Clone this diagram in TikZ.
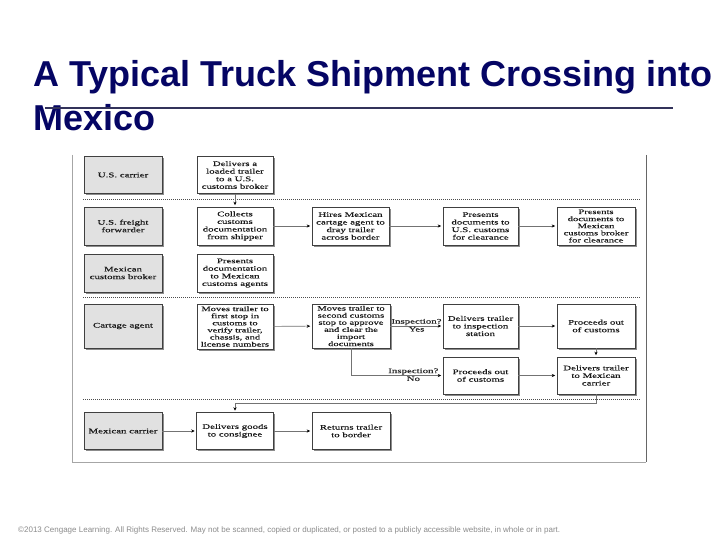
\documentclass[tikz,border=0pt]{standalone}
\usepackage{fontspec}
\setmainfont{Liberation Serif}
\newfontfamily\boxfont[FakeStretch=1.55,FakeBold=0.35]{Liberation Serif}
\newfontfamily\titlefont{Liberation Sans}
\usetikzlibrary{shadows,arrows.meta}
\definecolor{titleblue}{RGB}{5,5,100}
\definecolor{rulecol}{RGB}{50,50,90}
\definecolor{lanefill}{RGB}{225,225,225}
\tikzset{
  basebox/.style={draw=black!75, line width=0.6pt, align=center, inner sep=0.5pt,
    font=\boxfont\fontsize{7}{7.6}\selectfont, text=black!90,
    drop shadow={shadow xshift=1.6pt, shadow yshift=-1.6pt, fill=black!45, opacity=1}},
  task/.style={basebox, fill=white, minimum width=76pt},
  lane/.style={basebox, fill=lanefill, minimum width=78pt},
  tight/.style={font=\boxfont\fontsize{6.8}{7.1}\selectfont},
  conn/.style={draw=black!55, line width=0.6pt, -{Stealth[length=3.5pt,width=3.2pt,color=black]}, shorten >=1.5pt},
  sep/.style={draw=black!70, line width=0.5pt, dash pattern=on 1.2pt off 0.8pt},
  lbl/.style={font=\boxfont\fontsize{7}{7.6}\selectfont, inner sep=0.6pt, text=black!85},
  titletext/.style={anchor=base west, inner sep=0, font=\titlefont\bfseries\fontsize{36}{40}\selectfont, text=titleblue}
}
\begin{document}
\begin{tikzpicture}[x=1pt,y=-1pt]
\useasboundingbox (0,0) rectangle (720,540);
\fill[white] (0,0) rectangle (720,540);

% title
\node[titletext] (t1) at (33,87) {A Typical Truck Shipment Crossing into};
\node[titletext] (t2) at (33,131) {Mexico};
\draw[rulecol, line width=2.5pt] (45,108) -- (673,108);

% frame
\draw[black!35, line width=0.8pt] (72,155) -- (72,462) -- (646,462);
\draw[black!60, line width=0.8pt] (646,155) -- (646,462);

% separators
\draw[sep] (83,199) -- (640,199);
\draw[sep] (83,297) -- (640,297);
\draw[sep] (83,399) -- (640,399);

% lanes
\node[lane, minimum height=37pt] (l1) at (123,175) {U.S. carrier};
\node[lane, minimum height=38pt] (l2) at (123,226) {U.S. freight\\forwarder};
\node[lane, minimum height=38pt] (l3) at (123,273) {Mexican\\customs broker};
\node[lane, minimum height=44pt] (l4) at (123,326) {Cartage agent};
\node[lane, minimum height=37pt] (l5) at (123,431) {Mexican carrier};

% tasks
\node[task, minimum height=37pt] (a1) at (235,175) {Delivers a\\loaded trailer\\to a U.S.\\customs broker};
\node[task, minimum height=38pt] (b1) at (235,226) {Collects\\customs\\documentation\\from shipper};
\node[task, minimum height=38pt, minimum width=77pt] (b2) at (350.5,226) {Hires Mexican\\cartage agent to\\dray trailer\\across border};
\node[task, minimum height=38pt, minimum width=75pt] (b3) at (480.5,226) {Presents\\documents to\\U.S. customs\\for clearance};
\node[task, minimum height=38pt, minimum width=78pt, tight] (b4) at (596,226) {Presents\\documents to\\Mexican\\customs broker\\for clearance};
\node[task, minimum height=38pt] (c1) at (235,273) {Presents\\documentation\\to Mexican\\customs agents};
\node[task, minimum height=45pt, tight] (d1) at (235,326.5) {Moves trailer to\\first stop in\\customs to\\verify trailer,\\chassis, and\\license numbers};
\node[task, minimum height=44pt, minimum width=78pt, tight] (d2) at (351,326) {Moves trailer to\\second customs\\stop to approve\\and clear the\\import\\documents};
\node[task, minimum height=44pt, minimum width=75pt] (d3) at (480.5,326) {Delivers trailer\\to inspection\\station};
\node[task, minimum height=44pt, minimum width=78pt] (d4) at (596,326) {Proceeds out\\of customs};
\node[task, minimum height=37pt, minimum width=75pt] (e3) at (480.5,375.5) {Proceeds out\\of customs};
\node[task, minimum height=37pt, minimum width=78pt] (e4) at (596,375.5) {Delivers trailer\\to Mexican\\carrier};
\node[task, minimum height=37pt, minimum width=77pt] (f1) at (235,431) {Delivers goods\\to consignee};
\node[task, minimum height=37pt, minimum width=78pt] (f2) at (351,431) {Returns trailer\\to border};

% connectors
\draw[conn] (a1) -- (b1);
\draw[conn] (b1) -- (b2);
\draw[conn] (b2) -- (b3);
\draw[conn] (b3) -- (b4);
\draw[conn] (d1) -- (d2);
\draw[conn] (d2) -- node[lbl, above] {Inspection?} node[lbl, below] {Yes} (d3);
\draw[conn] (d2.south) |- node[lbl, above, pos=0.84] {Inspection?} node[lbl, below, pos=0.84] {No} (e3);
\draw[conn] (d3) -- (d4);
\draw[conn] (d4) -- (e4);
\draw[conn] (e3) -- (e4);
\draw[conn] (e4.south) -- ++(0,9) -| (f1.north);
\draw[conn] (l5) -- (f1);
\draw[conn] (f1) -- (f2);

% copyright
\node[anchor=west, inner sep=0, text=black!45] (copy) at (18,530)
  {\resizebox{542pt}{!}{\titlefont\fontsize{6}{7}\selectfont ©2013 Cengage Learning. All Rights Reserved. May not be scanned, copied or duplicated, or posted to a publicly accessible website, in whole or in part.}};
\end{tikzpicture}
\end{document}
